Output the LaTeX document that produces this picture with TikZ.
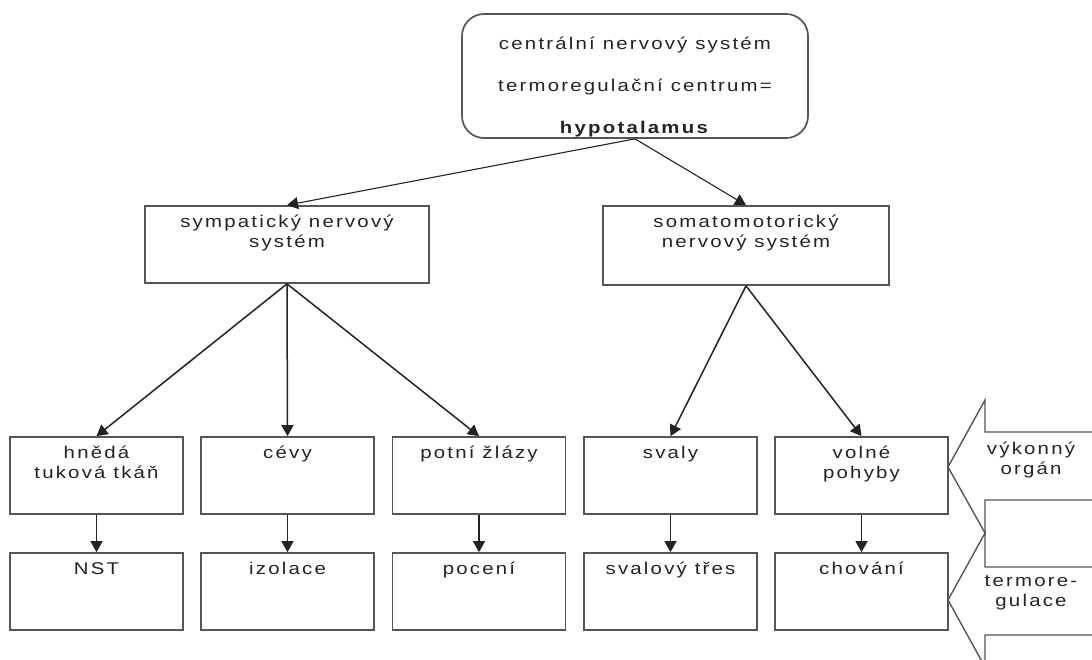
\documentclass[tikz,border=0pt]{standalone}
\usepackage{fontspec}
\setmainfont{Liberation Sans}[FakeStretch=1.2,LetterSpace=13]
\usetikzlibrary{arrows.meta, positioning, calc}
\definecolor{framegray}{RGB}{85,85,85}
\definecolor{inkgray}{RGB}{35,35,35}

\begin{document}
\begin{tikzpicture}[x=1pt, y=-1pt,
  font=\fontsize{17}{20}\selectfont, text=inkgray,
  box/.style={draw=framegray, line width=1.7pt, minimum width=173pt, minimum height=77pt, inner sep=0pt},
  boxlabel/.style={anchor=north, align=center, inner sep=0pt, yshift=-10pt},
  conn/.style={draw=inkgray, line width=1.5pt, -{Triangle[length=11pt,width=12pt]}},
  blockarrow/.style={draw=framegray, line width=1.4pt, line join=miter}]
\useasboundingbox (0,0) rectangle (1092,659);
\clip (0,0) rectangle (1092,659);

% control centre
\node[box, rounded corners=22pt, minimum width=346pt, minimum height=124pt] (cns) at (635,76) {};
\node[align=center, inner sep=0pt] (cnstext) at (635,87)
  {centrální nervový systém\\[22pt]termoregulační centrum=\\[22pt]\textbf{hypotalamus}};

% nervous systems
\node[box, minimum width=284pt, label={[boxlabel]north:sympatický nervový\\systém}] (symp) at (287,244.5) {};
\node[box, minimum width=286pt, minimum height=79pt,
  label={[boxlabel]north:somatomotorický\\nervový systém}] (somat) at (746,245.5) {};

% organs
\node[box, label={[boxlabel]north:hnědá\\tuková tkáň}] (fat) at (96.5,475.5) {};
\node[box, label={[boxlabel]north:cévy}] (vessels) at (287.5,475.5) {};
\node[box, label={[boxlabel]north:potní žlázy}] (glands) at (479,475.5) {};
\node[box, label={[boxlabel]north:svaly}] (muscles) at (670.5,475.5) {};
\node[box, label={[boxlabel]north:volné\\pohyby}] (moves) at (861.5,475.5) {};

% responses
\node[box, label={[boxlabel]north:NST}] (nst) at (96.5,591.5) {};
\node[box, label={[boxlabel]north:izolace}] (insul) at (287.5,591.5) {};
\node[box, label={[boxlabel]north:pocení}] (sweat) at (479,591.5) {};
\node[box, label={[boxlabel]north:svalový třes}] (shiver) at (670.5,591.5) {};
\node[box, label={[boxlabel]north:chování}] (behav) at (861.5,591.5) {};

% connectors
\draw[conn, line width=1.1pt] (cns.south) -- (symp.north);
\draw[conn, line width=1.1pt] (cns.south) -- (somat.north);
\foreach \t in {fat, vessels, glands}
  \draw[conn] (symp.south) -- (\t.north);
\foreach \t in {muscles, moves}
  \draw[conn] (somat.south) -- (\t.north);
\foreach \a/\b in {fat/nst, vessels/insul, glands/sweat, muscles/shiver, moves/behav}
  \draw[conn] (\a) -- (\b);

% block arrows on the right
\draw[blockarrow] (1092,432) -- (985,432) -- (985,400) -- (948,467) -- (985,533) -- (985,500) -- (1092,500);
\draw[blockarrow] (1092,567) -- (985,567) -- (985,533) -- (948,600) -- (985,667) -- (985,635) -- (1092,635);
\node[align=center, inner sep=0pt] (effector) at (1031,460) {výkonný\\orgán};
\node[align=center, inner sep=0pt] (thermo) at (1031,593) {termore-\\gulace};
\end{tikzpicture}
\end{document}
